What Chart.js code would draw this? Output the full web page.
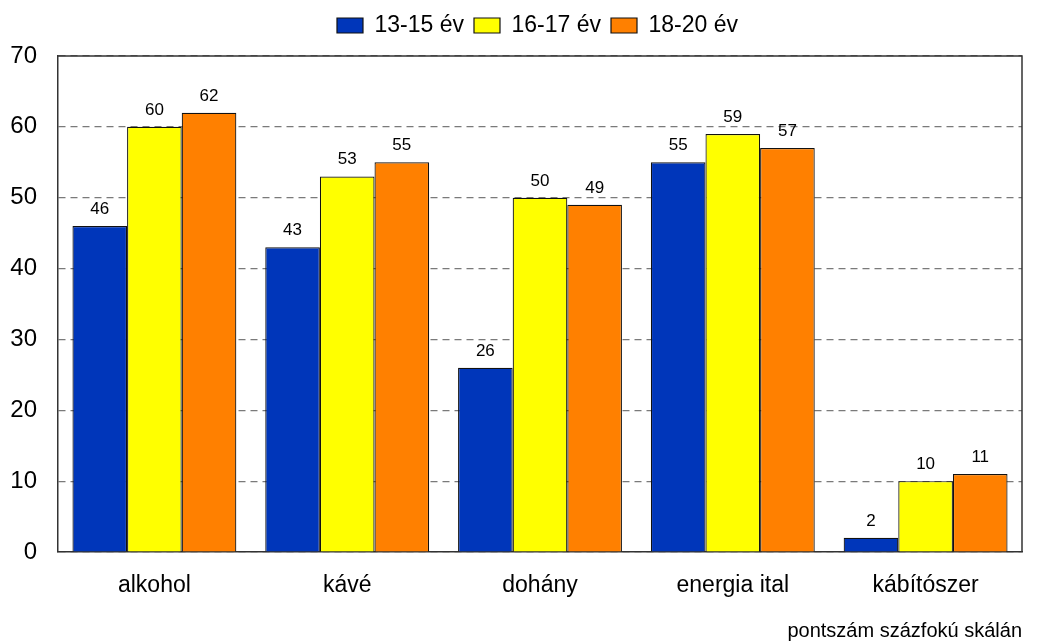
<!DOCTYPE html>
<html>
<head>
<meta charset="utf-8">
<script src="https://cdn.jsdelivr.net/npm/chart.js@4/dist/chart.umd.min.js"></script>
<style>
  html, body { margin: 0; padding: 0; background: #ffffff; }
  #wrap { width: 1037px; height: 644px; }
</style>
</head>
<body>
<div id="wrap"><canvas id="chart" width="1037" height="644"></canvas></div>
<script>
const categories = ["alkohol", "kávé", "dohány", "energia ital", "kábítószer"];
const seriesNames = ["13-15 év", "16-17 év", "18-20 év"];
const age1315 = [46, 43, 26, 55, 2];
const age1617 = [60, 53, 50, 59, 10];
const age1820 = [62, 55, 49, 57, 11];
const seriesColors = ["#0036BA", "#FFFF00", "#FF8000"];
const yTicks = [0, 10, 20, 30, 40, 50, 60, 70];
const footnote = "pontszám százfokú skálán";

const FONT = "'Liberation Sans', Arial, sans-serif";

// value labels above bars + top/right frame lines
const barLabels = {
    id: "barLabels",
    afterDatasetsDraw(chart) {
        const ctx = chart.ctx;
        ctx.save();
        ctx.font = "17px " + FONT;
        ctx.fillStyle = "#000";
        ctx.textAlign = "center";
        ctx.textBaseline = "alphabetic";
        chart.data.datasets.forEach((ds, i) => {
            chart.getDatasetMeta(i).data.forEach((bar, j) => {
                ctx.fillText(ds.data[j], bar.x, bar.y - 12);
            });
        });
        const a = chart.chartArea;
        ctx.strokeStyle = "#333";
        ctx.lineWidth = 1.5;
        ctx.beginPath();
        ctx.moveTo(a.left, a.top);
        ctx.lineTo(a.right, a.top);
        ctx.lineTo(a.right, a.bottom);
        ctx.stroke();
        ctx.restore();
    }
};

// extra gap under the legend, and centre it over the plot area
const legendGap = {
    id: "legendGap",
    beforeInit(chart) {
        const legend = chart.legend;
        const fit = legend.fit;
        legend.fit = function () {
            fit.call(this);
            this.height += 9;
        };
        const draw = legend.draw;
        legend.draw = function () {
            const a = chart.chartArea;
            const shift = (a.left + a.right) / 2 - chart.width / 2;
            chart.ctx.save();
            chart.ctx.translate(shift, 0);
            draw.call(this);
            chart.ctx.restore();
        };
    }
};

const values = [age1315, age1617, age1820];

new Chart(document.getElementById("chart"), {
    type: "bar",
    data: {
        labels: categories,
        datasets: seriesNames.map((name, i) => ({
            label: name,
            data: values[i],
            backgroundColor: seriesColors[i],
            borderColor: "#111",
            borderWidth: 1.2,
            barPercentage: 1.0,
            categoryPercentage: 0.85
        }))
    },
    options: {
        responsive: false,
        animation: false,
        layout: { padding: { left: 10, right: 15, top: 4, bottom: 1 } },
        plugins: {
            legend: {
                position: "top",
                labels: {
                    font: { family: FONT, size: 23 },
                    color: "#000",
                    boxWidth: 26,
                    boxHeight: 15,
                    padding: 10
                }
            },
            subtitle: {
                display: true,
                text: footnote,
                position: "bottom",
                align: "end",
                color: "#000",
                font: { family: FONT, size: 20 },
                padding: { top: 1, bottom: 0 }
            },
            tooltip: { enabled: false }
        },
        scales: {
            x: {
                afterFit: axis => { axis.height = 66; },
                grid: { display: false, drawTicks: false },
                border: { display: true, color: "#333", width: 1.5 },
                ticks: { color: "#000", font: { family: FONT, size: 23 }, padding: 20 }
            },
            y: {
                min: 0,
                max: 70,
                afterBuildTicks: axis => { axis.ticks = yTicks.map(v => ({ value: v })); },
                afterFit: axis => { axis.width = 48; },
                grid: { color: "#7a7a7a", lineWidth: 1.2, drawTicks: false },
                border: { display: true, color: "#333", width: 1.5, dash: [7, 5] },
                ticks: { color: "#000", font: { family: FONT, size: 24 }, padding: 21 }
            }
        }
    },
    plugins: [barLabels, legendGap]
});
</script>
</body>
</html>
